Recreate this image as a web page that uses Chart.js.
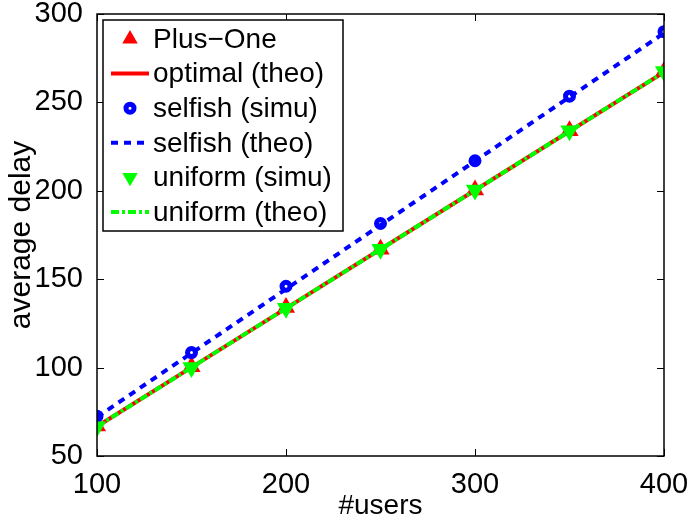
<!DOCTYPE html>
<html lang="en">
<head>
  <meta charset="UTF-8" />
  <title>average delay vs users</title>
  <script src="https://cdn.jsdelivr.net/npm/chart.js"></script>
  <style>
    html, body { margin: 0; padding: 0; background: #fff; }
    #wrap { width: 690px; height: 520px; }
  </style>
</head>
<body>
  <div id="wrap"><canvas id="grafico"></canvas></div>

  <script>
    // valores
    const users = [100, 150, 200, 250, 300, 350, 400];
    const plusOne = [67, 100.5, 134, 167, 200.5, 234, 267.5];
    const optimalTheo = [66.7, 100.1, 133.5, 166.9, 200.3, 233.7, 267.1];
    const selfishSimu = [72.5, 108.5, 146, 181.5, 217, 253.5, 290];
    const selfishTheo = [72, 108.2, 144.4, 180.6, 216.8, 253, 289.2];
    const uniformSimu = [66.5, 100, 133.5, 167, 200.5, 234, 267.5];
    const uniformTheo = [66.7, 100.1, 133.5, 166.9, 200.3, 233.7, 267.1];
    const xTicks = [100, 200, 300, 400];
    const yTicks = [50, 100, 150, 200, 250, 300];

    const fonte = "'Liberation Sans', Arial, Helvetica, sans-serif";
    const pts = arr => users.map((u, i) => ({ x: u, y: arr[i] }));

    const datasets = [
      { label: 'Plus\u2212One', data: pts(plusOne), showLine: false,
        pointStyle: 'triangle', pointRadius: 10.5, pointBackgroundColor: '#ff0000',
        pointBorderColor: '#ff0000', pointBorderWidth: 0, borderColor: '#ff0000', order: 6 },
      { label: 'optimal (theo)', data: pts(optimalTheo), borderColor: '#ff0000',
        borderWidth: 4, pointRadius: 0, order: 5 },
      { label: 'selfish (simu)', data: pts(selfishSimu), showLine: false,
        pointStyle: 'circle', pointRadius: 4, pointBackgroundColor: '#ffffff',
        pointBorderColor: '#0000ff', pointBorderWidth: 5, borderColor: '#0000ff', order: 4 },
      { label: 'selfish (theo)', data: pts(selfishTheo), borderColor: '#0000ff',
        borderWidth: 4, borderDash: [7, 6], pointRadius: 0, order: 3 },
      { label: 'uniform (simu)', data: pts(uniformSimu), showLine: false,
        pointStyle: 'triangle', pointRotation: 180, pointRadius: 10.5,
        pointBackgroundColor: '#00ff00', pointBorderColor: '#00ff00', pointBorderWidth: 0,
        borderColor: '#00ff00', order: 2 },
      { label: 'uniform (theo)', data: pts(uniformTheo), borderColor: '#00ff00',
        borderWidth: 4, borderDash: [8, 3, 3, 3], pointRadius: 0, order: 1 }
    ];

    function marcador(ctx, ds, x, y) {
      const r = ds.pointRadius;
      ctx.save();
      ctx.setLineDash([]);
      ctx.translate(x, y);
      if (ds.pointStyle === 'triangle') {
        ctx.rotate((ds.pointRotation || 0) * Math.PI / 180);
        ctx.beginPath();
        for (let k = 0; k < 3; k++) {
          const a = k * 2 * Math.PI / 3;
          const px = Math.sin(a) * r * 0.85, py = -Math.cos(a) * r * 0.85;
          k === 0 ? ctx.moveTo(px, py) : ctx.lineTo(px, py);
        }
        ctx.closePath();
        ctx.fillStyle = ds.pointBackgroundColor;
        ctx.fill();
      } else {
        ctx.beginPath();
        ctx.arc(0, 0, r, 0, Math.PI * 2);
        ctx.fillStyle = ds.pointBackgroundColor;
        ctx.fill();
        ctx.lineWidth = ds.pointBorderWidth;
        ctx.strokeStyle = ds.pointBorderColor;
        ctx.stroke();
      }
      ctx.restore();
    }

    // moldura estilo matlab + legenda dentro do grafico
    const molduraLegenda = {
      id: 'molduraLegenda',
      afterDraw(chart) {
        const { ctx, chartArea: a, scales: { x, y } } = chart;
        ctx.save();
        ctx.strokeStyle = '#000';
        ctx.lineWidth = 1;
        xTicks.forEach(v => {
          const px = Math.round(x.getPixelForValue(v)) + 0.5;
          ctx.beginPath();
          ctx.moveTo(px, a.bottom); ctx.lineTo(px, a.bottom - 7);
          ctx.moveTo(px, a.top); ctx.lineTo(px, a.top + 7);
          ctx.stroke();
        });
        yTicks.forEach(v => {
          const py = Math.round(y.getPixelForValue(v)) + 0.5;
          ctx.beginPath();
          ctx.moveTo(a.left, py); ctx.lineTo(a.left + 7, py);
          ctx.moveTo(a.right, py); ctx.lineTo(a.right - 7, py);
          ctx.stroke();
        });
        ctx.lineWidth = 1.5;
        ctx.strokeRect(a.left, a.top, a.right - a.left, a.bottom - a.top);

        // legenda
        const bx = a.left + 6, by = a.top + 6, bw = 240, bh = 211;
        ctx.fillStyle = '#fff';
        ctx.fillRect(bx, by, bw, bh);
        ctx.lineWidth = 1.5;
        ctx.strokeRect(bx, by, bw, bh);
        ctx.font = '28px ' + fonte;
        ctx.textBaseline = 'middle';
        chart.data.datasets.forEach((ds, i) => {
          const cy = by + 19 + i * 34.6;
          if (ds.showLine !== false) {
            ctx.save();
            ctx.strokeStyle = ds.borderColor;
            ctx.lineWidth = ds.borderWidth;
            ctx.setLineDash(ds.borderDash || []);
            ctx.beginPath();
            ctx.moveTo(bx + 8, cy); ctx.lineTo(bx + 46, cy);
            ctx.stroke();
            ctx.restore();
          } else {
            marcador(ctx, ds, bx + 27, cy);
          }
          ctx.fillStyle = '#000';
          ctx.fillText(ds.label, bx + 50, cy + 1);
        });
        ctx.restore();
      }
    };

    new Chart(document.getElementById('grafico'), {
      type: 'line',
      data: { datasets },
      options: {
        responsive: true,
        maintainAspectRatio: false,
        animation: false,
        layout: { padding: { top: 14, right: 26, left: 0, bottom: 0 } },
        plugins: { legend: { display: false }, tooltip: { enabled: false } },
        scales: {
          x: {
            type: 'linear', min: 100, max: 400,
            grid: { display: false }, border: { display: false },
            ticks: { stepSize: 100, maxRotation: 0, autoSkip: false, padding: 6,
                     color: '#000', font: { family: fonte, size: 29, lineHeight: 1 } },
            title: { display: true, text: '#users', color: '#000', padding: { top: 3, bottom: 0 },
                     font: { family: fonte, size: 28, lineHeight: 1 } },
            afterFit: s => { s.height = 64; s.paddingLeft = 0; s.paddingRight = 0; }
          },
          y: {
            type: 'linear', min: 50, max: 300,
            grid: { display: false }, border: { display: false },
            ticks: { stepSize: 50, padding: 6, color: '#000',
                     font: { family: fonte, size: 29, lineHeight: 1 } },
            title: { display: true, text: 'average delay', color: '#000', padding: { top: 7, bottom: 0 },
                     font: { family: fonte, size: 30, lineHeight: 1 } },
            afterFit: s => { s.width = 97; s.paddingTop = 0; s.paddingBottom = 0; }
          }
        }
      },
      plugins: [molduraLegenda]
    });
  </script>
</body>
</html>
